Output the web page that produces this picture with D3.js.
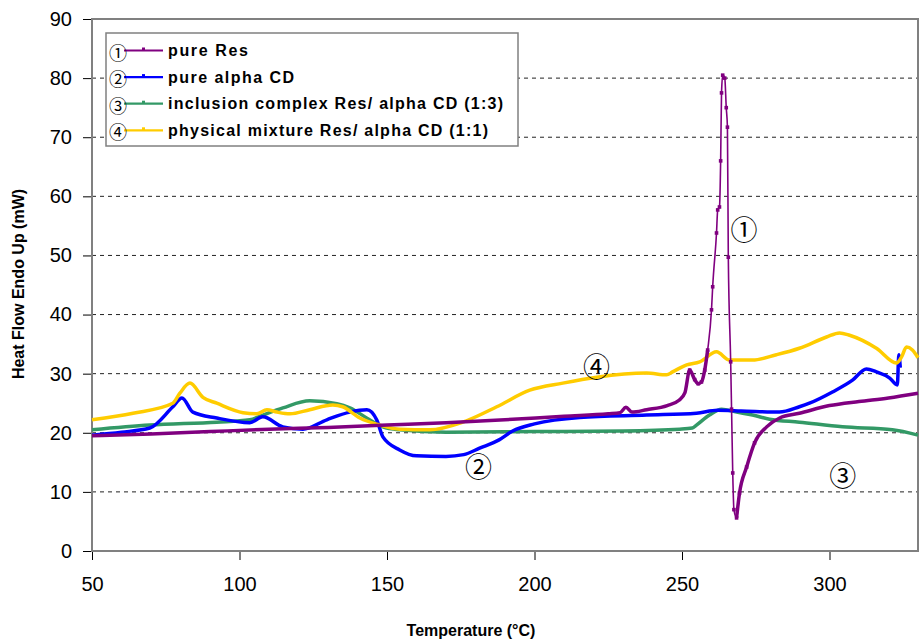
<!DOCTYPE html>
<html>
<head>
<meta charset="utf-8">
<script src="https://cdn.jsdelivr.net/npm/d3@7"></script>
<style>
  body { margin: 0; background: #fff; }
  svg { display: block; }
  text { font-family: "Liberation Sans", Arial, sans-serif; }
</style>
</head>
<body>
<svg id="chart" width="920" height="639"></svg>
<script>
// DSC curves: [temperature, heat flow]
const pureRes = [
  [50,19.5],[70,19.8],[90,20.2],[110,20.6],[130,20.9],[150,21.3],[170,21.7],[190,22.2],
  [210,22.8],[225,23.2],[229,23.4],[231,24.3],[233,23.5],[238,23.9],[245,24.6],[249,25.5],
  [251,26.8],[252.6,30.6],[254.3,29],[255.5,28.3],[256.6,28.6],[257.7,30.6],[258.7,34],
  [260,40.8],[260.4,44.7],[261.7,53.8],[262.1,57.7],[262.7,58.2],[263.1,66],[263.4,77.5],
  [263.8,80.5],[264.5,80],[265,75],[265.4,71.7],[265.7,49.7],[266.5,32],[266.8,24],
  [267.2,13.2],[267.6,7],[268.5,5.6],[269.5,9.8],[271.9,14.2],[274.6,18.3],[278.7,21],
  [283.1,22.5],[289.8,23.3],[300,24.6],[310,25.3],[320,25.9],[330,26.7]
];
const pureAlphaCD = [
  [50,19.6],[60,20.1],[69.6,20.8],[77.4,24.4],[80.5,25.9],[84.2,23.5],[92.3,22.5],
  [103.5,21.7],[107.9,22.7],[114.7,21],[121.5,20.6],[129.6,22.2],[137.4,23.5],[143.2,23.9],
  [146.5,22.2],[148.6,19.3],[154.3,17.1],[160,16.1],[170,16],[176,16.3],[181.4,17.4],
  [188,18.8],[192.6,20.3],[200,21.5],[215.3,22.6],[238,23],[254.9,23.3],[262,23.8],
  [270,23.7],[283,23.5],[289.8,24.4],[293.2,25],[301,26.9],[307.8,28.9],[312.5,30.8],
  [315.9,30.3],[320.3,29.3],[323,28.1],[323.5,33.2],[324,31]
];
const inclusionComplex = [
  [50,20.5],[69.6,21.3],[92.3,21.8],[103.5,22.2],[107.9,23],[114.7,24.2],[123.8,25.4],
  [133,24.9],[137.4,24.2],[144.1,22.2],[148.6,21],[154.3,20.5],[170,20.1],[200,20.2],
  [230,20.3],[249.2,20.6],[253.5,20.8],[254.9,21.3],[259.3,23],[263.4,24],[268.5,23.5],
  [273.9,23],[279.7,22.3],[289.8,21.8],[304.4,21],[321.3,20.5],[330,19.6]
];
const physicalMixture = [
  [50,22.2],[63.9,23.3],[77.4,25],[79.8,26.7],[83.2,28.4],[87.6,26],[92.3,25],[101.2,23.4],
  [105.9,23.2],[109.3,23.9],[112.7,23.5],[117.1,23.2],[123.8,23.9],[131.6,24.7],[135,24.4],
  [140.8,22.5],[147.6,21.3],[154.3,20.6],[164.5,20.5],[175.7,21.8],[187.2,24.4],[198.4,27.2],
  [209.6,28.4],[221.1,29.4],[238,30.1],[244.8,29.8],[246.8,30.3],[251.6,31.5],[256,32],
  [261.7,33.7],[266.1,32.3],[273.9,32.3],[282,33.2],[289.8,34.3],[299,36.2],[303.4,36.9],
  [306.8,36.5],[315.9,34.3],[322.7,31.8],[324.4,32.8],[326.1,34.5],[328.1,34],[330,32.7]
];

const seriesNames = ['pure Res', 'pure alpha CD', 'inclusion complex Res/ alpha CD (1:3)', 'physical mixture Res/ alpha CD (1:1)'];
const seriesColors = ['#800080', '#0000ff', '#339966', '#ffcc00'];
const circled = ['\u2460', '\u2461', '\u2462', '\u2463'];
const yTicks = [0, 10, 20, 30, 40, 50, 60, 70, 80, 90];
const xTicks = [50, 100, 150, 200, 250, 300];
// curve labels: [series index, temperature, heat flow]
const curveLabels = [[0, 271, 54.5], [1, 181, 14.5], [2, 304.5, 13], [3, 221, 31.3]];

const svg = d3.select('#chart');
const x = d3.scaleLinear().domain([50, 330]).range([92, 918]);
const y = d3.scaleLinear().domain([0, 90]).range([551, 19]);
const circleFont = '"Noto Sans CJK JP", "DejaVu Sans", sans-serif';

// dashed grid lines
svg.append('g').selectAll('line')
  .data(yTicks.filter(d => d > 0 && d < 90))
  .join('line')
  .attr('x1', x(50)).attr('x2', x(330))
  .attr('y1', d => y(d)).attr('y2', d => y(d))
  .attr('stroke', '#222').attr('stroke-width', 1).attr('stroke-dasharray', '4,4');

// axes
const yAxis = svg.append('g').attr('transform', `translate(${x(50)},0)`)
  .call(d3.axisLeft(y).tickValues(yTicks).tickSize(9).tickPadding(11));
const xAxis = svg.append('g').attr('transform', `translate(0,${y(0)})`)
  .call(d3.axisBottom(x).tickValues(xTicks).tickSize(9).tickPadding(17));
[yAxis, xAxis].forEach(a => {
  a.select('.domain').remove();
  a.selectAll('.tick line').attr('stroke', '#000');
  a.selectAll('.tick text').attr('fill', '#000').style('font-size', '20px')
    .style('font-family', '"Liberation Sans", Arial, sans-serif');
});

// plot frame
svg.append('rect')
  .attr('x', x(50)).attr('y', y(90))
  .attr('width', x(330) - x(50)).attr('height', y(0) - y(90))
  .attr('fill', 'none').attr('stroke', '#808080').attr('stroke-width', 2);

// curves
const line = d3.line().x(d => x(d[0])).y(d => y(d[1])).curve(d3.curveMonotoneX);
const allSeries = [pureRes, pureAlphaCD, inclusionComplex, physicalMixture];
const drawOrder = [2, 1, 3];
drawOrder.forEach(i => {
  svg.append('path').datum(allSeries[i])
    .attr('d', line).attr('fill', 'none')
    .attr('stroke', seriesColors[i]).attr('stroke-width', 3.5)
    .attr('stroke-linejoin', 'round');
});

// pure Res: thick where the data is dense, thin through the melting spike
svg.append('path').datum(pureRes)
  .attr('d', line).attr('fill', 'none')
  .attr('stroke', seriesColors[0]).attr('stroke-width', 1.6);
[pureRes.filter(d => d[0] <= 258.7), pureRes.filter(d => d[0] >= 268.5)].forEach(part => {
  svg.append('path').datum(part)
    .attr('d', line).attr('fill', 'none')
    .attr('stroke', seriesColors[0]).attr('stroke-width', 3.5)
    .attr('stroke-linejoin', 'round');
});
svg.append('g').selectAll('rect')
  .data(pureRes.filter(d => d[0] >= 252 && d[0] <= 275))
  .join('rect')
  .attr('x', d => x(d[0]) - 1.8).attr('y', d => y(d[1]) - 1.8)
  .attr('width', 3.6).attr('height', 3.6)
  .attr('fill', seriesColors[0]);

// circled labels on curves
svg.append('g').selectAll('text')
  .data(curveLabels)
  .join('text')
  .attr('x', d => x(d[1])).attr('y', d => y(d[2]))
  .attr('text-anchor', 'middle').attr('dominant-baseline', 'central')
  .style('font-family', circleFont)
  .style('font-size', '27px')
  .text(d => circled[d[0]]);

// legend
const legend = svg.append('g');
legend.append('rect')
  .attr('x', 106).attr('y', 33).attr('width', 412).attr('height', 113)
  .attr('fill', '#fff').attr('stroke', '#808080').attr('stroke-width', 1.5);
const textLengths = [80, 126, 335, 320];
seriesNames.forEach((name, i) => {
  const cy = 50.5 + i * 26.6;
  const row = legend.append('g');
  row.append('line')
    .attr('x1', 124).attr('x2', 163).attr('y1', cy).attr('y2', cy)
    .attr('stroke', seriesColors[i]).attr('stroke-width', 2.2);
  row.append('rect')
    .attr('x', 142).attr('y', cy - 3).attr('width', 3).attr('height', 3)
    .attr('fill', seriesColors[i]);
  row.append('text')
    .attr('x', 118).attr('y', cy + 1)
    .attr('text-anchor', 'middle').attr('dominant-baseline', 'central')
    .style('font-family', circleFont)
    .style('font-size', '18px')
    .text(circled[i]);
  row.append('text')
    .attr('x', 168).attr('y', cy)
    .attr('dominant-baseline', 'central')
    .attr('textLength', textLengths[i]).attr('lengthAdjust', 'spacing')
    .style('font-size', '16px').style('font-weight', 'bold')
    .text(name);
});

// axis titles
svg.append('text')
  .attr('x', 471).attr('y', 630)
  .attr('text-anchor', 'middle').attr('dominant-baseline', 'central')
  .style('font-size', '16px').style('font-weight', 'bold')
  .text('Temperature (\u00B0C)');
svg.append('text')
  .attr('transform', 'translate(18,284) rotate(-90)')
  .attr('text-anchor', 'middle').attr('dominant-baseline', 'central')
  .style('font-size', '16px').style('font-weight', 'bold')
  .text('Heat Flow Endo Up (mW)');
</script>
</body>
</html>
